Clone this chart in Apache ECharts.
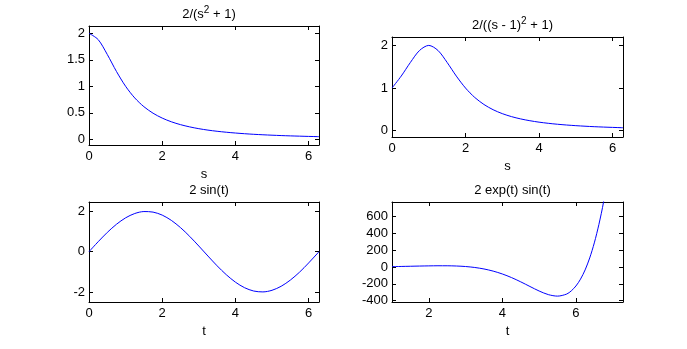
<!DOCTYPE html>
<html>
<head>
<meta charset="utf-8">
<script src="https://cdn.jsdelivr.net/npm/echarts@6/dist/echarts.min.js"></script>
<style>
  html, body { margin: 0; padding: 0; background: #fff; }
  #chart { width: 687px; height: 349px; }
</style>
</head>
<body>
<div id="chart"></div>
<script>
// Sample points for the four panels
const sValues = [0, 0.25, 0.5, 0.75, 1, 1.25, 1.5, 1.75, 2, 2.25, 2.5, 2.75, 3, 3.25, 3.5, 3.75, 4, 4.25, 4.5, 4.75, 5, 5.25, 5.5, 5.75, 6, 6.25, 6.2832];
const lorentzA = [2, 1.882, 1.6, 1.28, 1, 0.780, 0.615, 0.492, 0.4, 0.330, 0.276, 0.234, 0.2, 0.173, 0.151, 0.133, 0.118, 0.105, 0.094, 0.085, 0.077, 0.070, 0.064, 0.059, 0.054, 0.050, 0.049];
const lorentzB = [1, 1.28, 1.6, 1.882, 2, 1.882, 1.6, 1.28, 1, 0.780, 0.615, 0.492, 0.4, 0.330, 0.276, 0.234, 0.2, 0.173, 0.151, 0.133, 0.118, 0.105, 0.094, 0.085, 0.077, 0.070, 0.069];

const tValues = [0, 0.25, 0.5, 0.75, 1, 1.25, 1.5, 1.75, 2, 2.25, 2.5, 2.75, 3, 3.25, 3.5, 3.75, 4, 4.25, 4.5, 4.75, 5, 5.25, 5.5, 5.75, 6, 6.25, 6.2832];
const sineVals = [0, 0.495, 0.959, 1.363, 1.683, 1.898, 1.995, 1.968, 1.819, 1.556, 1.197, 0.763, 0.282, -0.216, -0.702, -1.143, -1.514, -1.790, -1.955, -1.999, -1.918, -1.718, -1.411, -1.020, -0.559, -0.066, 0];

const tGrowth = [1, 1.25, 1.5, 1.75, 2, 2.25, 2.5, 2.75, 3, 3.25, 3.5, 3.75, 4, 4.25, 4.5, 4.75, 5, 5.25, 5.5, 5.75, 5.875, 6, 6.125, 6.25, 6.375, 6.5, 6.625, 6.75, 7];
const growthVals = [4.57, 6.62, 8.94, 11.33, 13.44, 14.76, 14.58, 11.94, 5.67, -5.58, -23.2, -48.6, -82.6, -125.5, -176.0, -231.0, -284.6, -327.4, -345.3, -320.5, -282.6, -225.4, -144.0, -34.4, 107.7, 286.1, 505.3, 768.7, 1441];

// Tick positions and labels
const ticksX = [0, 2, 4, 6];
const ticksXGrowth = [2, 4, 6];
const ticksA = [0, 0.5, 1, 1.5, 2];
const ticksB = [0, 1, 2];
const ticksSine = [-2, 0, 2];
const ticksGrowth = [-400, -200, 0, 200, 400, 600];

const titles = [
  '2/(s{sup|2} + 1)',
  '2/((s - 1){sup|2} + 1)',
  '2 sin(t)',
  '2 exp(t) sin(t)'
];
const axisNames = ['s', 's', 't', 't'];

const FONT = 'Liberation Sans, Arial, Helvetica, sans-serif';
const BLACK = '#000';

const panels = [
  { grid: { left: 89, top: 26, width: 230, height: 119 }, xMin: 0, xMax: 6.2832, yMin: -0.108, yMax: 2.138, xt: ticksX, yt: ticksA, xs: sValues, ys: lorentzA },
  { grid: { left: 392, top: 37, width: 231, height: 100 }, xMin: 0, xMax: 6.2832, yMin: -0.148, yMax: 2.197, xt: ticksX, yt: ticksB, xs: sValues, ys: lorentzB },
  { grid: { left: 89, top: 202, width: 230, height: 100 }, xMin: 0, xMax: 6.2832, yMin: -2.5, yMax: 2.47, xt: ticksX, yt: ticksSine, xs: tValues, ys: sineVals },
  { grid: { left: 392, top: 202, width: 231, height: 100 }, xMin: 1, xMax: 7.28, yMin: -415, yMax: 771, xt: ticksXGrowth, yt: ticksGrowth, xs: tGrowth, ys: growthVals }
];

const grid = [], xAxis = [], yAxis = [], series = [], title = [];
const lineStyle = { color: BLACK, width: 1 };

panels.forEach((p, i) => {
  grid.push(Object.assign({ containLabel: false }, p.grid));
  // bottom axis with labels
  xAxis.push({
    type: 'value', gridIndex: i, min: p.xMin, max: p.xMax, position: 'bottom',
    name: axisNames[i], nameLocation: 'middle', nameGap: 23,
    nameTextStyle: { color: BLACK, fontSize: 13, fontFamily: FONT },
    axisLine: { show: true, onZero: false, lineStyle },
    axisTick: { show: true, inside: true, length: 4, lineStyle, customValues: p.xt },
    axisLabel: { color: BLACK, fontSize: 13, fontFamily: FONT, margin: 5, customValues: p.xt },
    splitLine: { show: false }
  });
  // top border with mirrored ticks
  xAxis.push({
    type: 'value', gridIndex: i, min: p.xMin, max: p.xMax, position: 'top',
    axisLine: { show: true, onZero: false, lineStyle },
    axisTick: { show: true, inside: true, length: 4, lineStyle, customValues: p.xt },
    axisLabel: { show: false },
    splitLine: { show: false }
  });
  // left axis with labels
  yAxis.push({
    type: 'value', gridIndex: i, min: p.yMin, max: p.yMax, position: 'left',
    axisLine: { show: true, onZero: false, lineStyle },
    axisTick: { show: true, inside: true, length: 4, lineStyle, customValues: p.yt },
    axisLabel: { color: BLACK, fontSize: 13, fontFamily: FONT, margin: 4, customValues: p.yt },
    splitLine: { show: false }
  });
  // right border with mirrored ticks
  yAxis.push({
    type: 'value', gridIndex: i, min: p.yMin, max: p.yMax, position: 'right',
    axisLine: { show: true, onZero: false, lineStyle },
    axisTick: { show: true, inside: true, length: 4, lineStyle, customValues: p.yt },
    axisLabel: { show: false },
    splitLine: { show: false }
  });
  series.push({
    type: 'line',
    xAxisIndex: i * 2, yAxisIndex: i * 2,
    data: p.xs.map((x, k) => [x, p.ys[k]]),
    showSymbol: false, symbol: 'none',
    smooth: 0.3,
    clip: true,
    lineStyle: { color: '#0000ff', width: 1 },
    silent: true, animation: false
  });
  title.push({
    text: titles[i],
    left: p.grid.left + p.grid.width / 2, textAlign: 'center',
    top: p.grid.top - 26,
    textStyle: {
      color: BLACK, fontSize: 13, fontWeight: 'normal', fontFamily: FONT, lineHeight: 18,
      rich: {
        sup: { fontSize: 10, fontFamily: FONT, color: BLACK, verticalAlign: 'top', lineHeight: 18 }
      }
    }
  });
});

const chart = echarts.init(document.getElementById('chart'), null, { renderer: 'canvas' });
chart.setOption({
  animation: false,
  backgroundColor: '#fff',
  title, grid, xAxis, yAxis, series
});
</script>
</body>
</html>
